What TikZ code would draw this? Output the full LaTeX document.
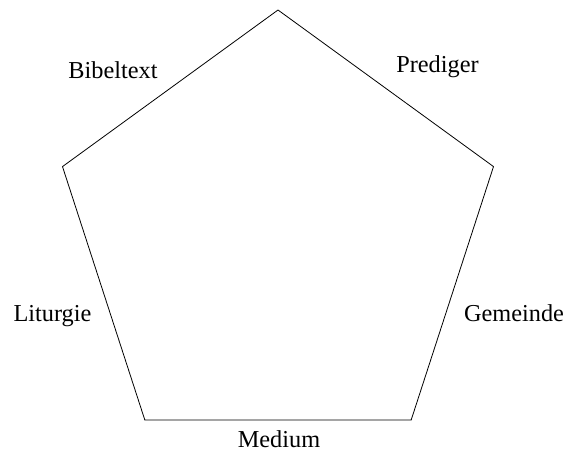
\documentclass[tikz,border=0pt]{standalone}
\usepackage{fontspec}
\setmainfont{Liberation Serif}
\usepackage{tikz}
\usetikzlibrary{calc}

\begin{document}
\begin{tikzpicture}[
    x=1pt, y=-1pt,
    edge/.style={draw=black, line width=0.8pt, line join=miter},
    lbl/.style={anchor=base, inner sep=0pt, font=\fontsize{24.3}{28}\selectfont}
]
\useasboundingbox (0,0) rectangle (568,450);

% Corners of the pentagon
\coordinate (c) at (278,236.6);
\foreach \i in {0,...,4} {
    \coordinate (v\i) at ($(c)+({-90-72*\i}:226.6)$);
}
\draw[edge] (v0) -- (v1) -- (v2) -- (v3) -- (v4) -- cycle;

% Labels
\node[lbl] (bibel) at (113,78) {Bibeltext};
\node[lbl] (pred) at (437.5,72) {Prediger};
\node[lbl] (lit) at (52.5,321) {Liturgie};
\node[lbl] (gem) at (514,321) {Gemeinde};
\node[lbl] (med) at (279,447) {Medium};

\end{tikzpicture}
\end{document}
